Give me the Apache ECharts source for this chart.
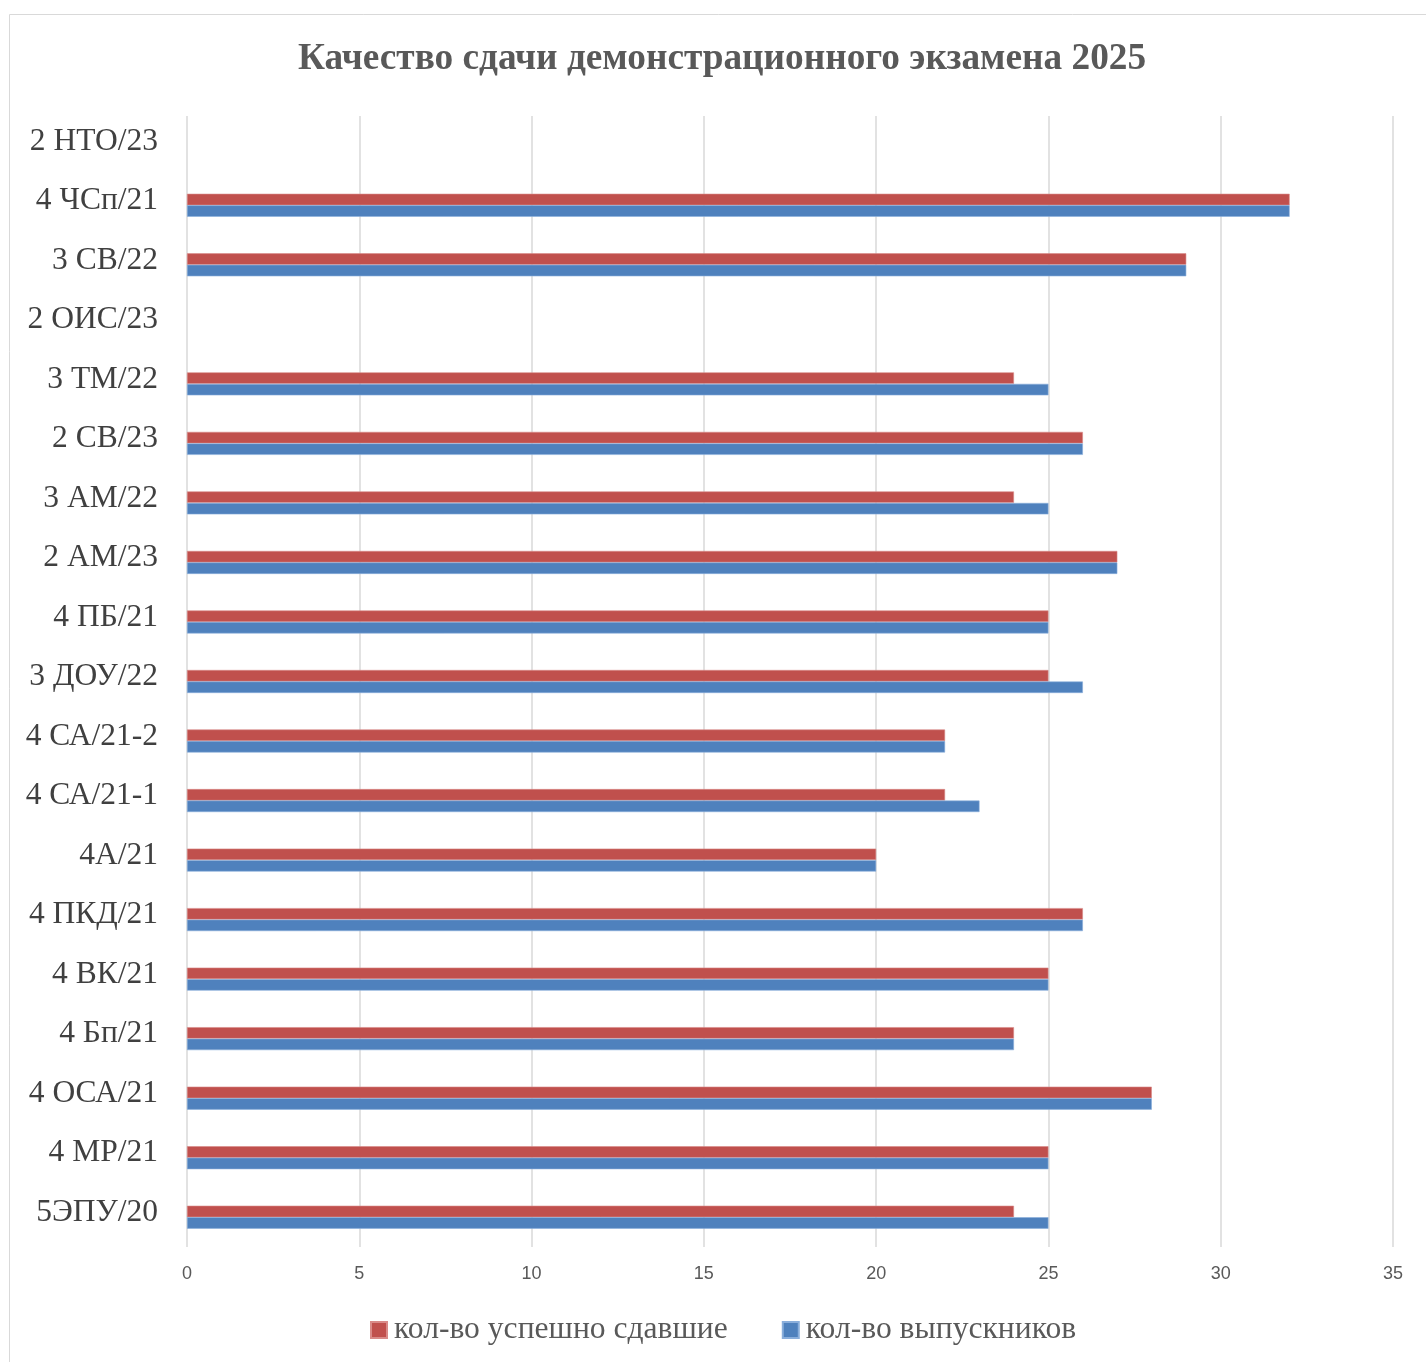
<!DOCTYPE html>
<html><head><meta charset="utf-8">
<script src="https://cdn.jsdelivr.net/npm/echarts@6/dist/echarts.min.js"></script>
<style>html,body{margin:0;padding:0;background:#fff}#c{width:1426px;height:1362px}</style>
</head><body><div id="c"></div>
<script>
const categories = ["2 НТО/23","4 ЧСп/21","3 СВ/22","2 ОИС/23","3 ТМ/22","2 СВ/23","3 АМ/22","2 АМ/23","4 ПБ/21","3 ДОУ/22","4 СА/21-2","4 СА/21-1","4А/21","4 ПКД/21","4 ВК/21","4 Бп/21","4 ОСА/21","4 МР/21","5ЭПУ/20"];
const passed = [null,32,29,null,24,26,24,27,25,25,22,22,20,26,25,24,28,25,24];
const graduates = [null,32,29,null,25,26,25,27,25,26,22,23,20,26,25,24,28,25,25];
const seriesNames = ["кол-во успешно сдавшие","кол-во выпускников"];
const xTicks = {min:0,max:35,interval:5};

const chart = echarts.init(document.getElementById('c'));
chart.setOption({
  animation:false,
  graphic:[{type:'rect',shape:{x:9.5,y:14.5,width:1440,height:1380},style:{fill:'none',stroke:'#d9d9d9',lineWidth:1}}],
  title:{text:'Качество сдачи демонстрационного экзамена 2025',left:293,top:36,
    textStyle:{fontFamily:'Liberation Serif',fontWeight:'bold',fontSize:37.3,color:'#595959'}},
  legend:{bottom:11,left:365,itemGap:54,itemWidth:16,itemHeight:16,icon:'rect',
    textStyle:{fontFamily:'Liberation Serif',fontSize:31.6,color:'#595959',padding:[0,0,0,2]},
    data:seriesNames},
  grid:{left:187,right:33,top:116,bottom:115,containLabel:false},
  xAxis:{type:'value',min:xTicks.min,max:xTicks.max,interval:xTicks.interval,
    axisLine:{show:false},axisTick:{show:false},
    axisLabel:{margin:18,fontFamily:'Liberation Sans',fontSize:18,color:'#595959'},
    splitLine:{lineStyle:{color:'#d9d9d9',width:1.5}}},
  yAxis:{type:'category',inverse:true,data:categories,
    axisLine:{show:false},axisTick:{show:false},
    axisLabel:{margin:29,fontFamily:'Liberation Serif',fontSize:31.5,color:'#404040',verticalAlign:'bottom',lineHeight:31,padding:[0,0,-11,0]}},
  series:[
    {name:seriesNames[0],type:'bar',data:passed,barWidth:11.5,barGap:'0%',
     itemStyle:{color:'#C0504D',borderColor:'#d98a88',borderWidth:0.6}},
    {name:seriesNames[1],type:'bar',data:graduates,barWidth:11.5,barGap:'0%',
     itemStyle:{color:'#4F81BD',borderColor:'#8aaedb',borderWidth:0.6}}
  ]
});
</script></body></html>
